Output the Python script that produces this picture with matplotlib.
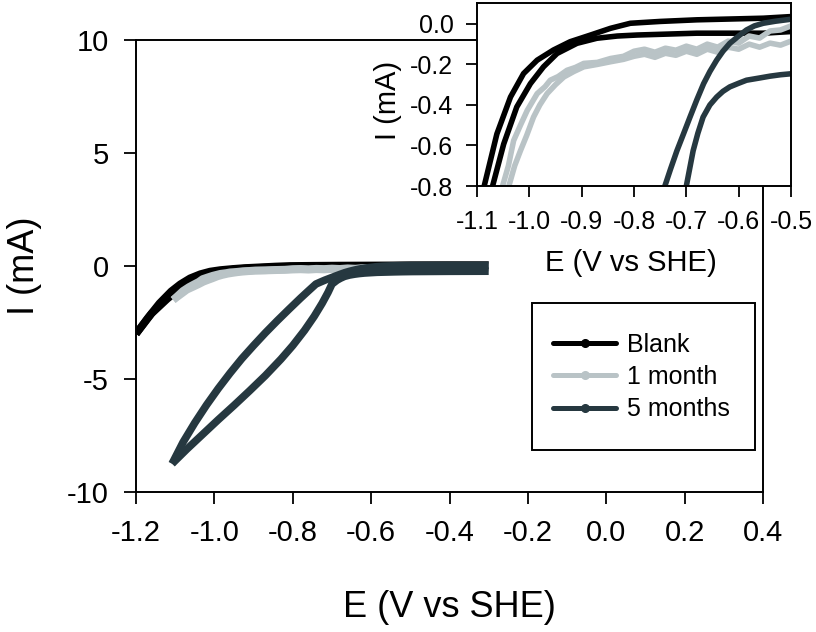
import matplotlib
matplotlib.use('Agg')
import matplotlib.pyplot as plt
from matplotlib.lines import Line2D
from matplotlib.patches import Rectangle
from matplotlib.ticker import FormatStrFormatter

plt.rcParams['font.family'] = ['Liberation Sans', 'DejaVu Sans']
plt.rcParams['axes.unicode_minus'] = False

# ---------------- data ----------------
series_labels = ['Blank', '1 month', '5 months']
series_colors = ['#000000', '#b9c3c6', '#263840']

# Blank: two scan branches
blank_a_E = [-1.2, -1.17, -1.14, -1.11, -1.087, -1.062, -1.036, -1.011, -0.985, -0.954,
             -0.922, -0.883, -0.845, -0.807, -0.75, -0.68, -0.6, -0.553, -0.5, -0.4, -0.3]
blank_a_I = [-3.0, -2.3, -1.65, -1.12, -0.808, -0.543, -0.361, -0.245, -0.179, -0.129,
             -0.088, -0.055, -0.022, 0.003, 0.012, 0.02, 0.025, 0.028, 0.036, 0.04, 0.04]
blank_b_E = [-1.2, -1.16, -1.12, -1.09, -1.071, -1.049, -1.024, -0.998, -0.973, -0.947,
             -0.909, -0.871, -0.832, -0.794, -0.68, -0.553, -0.5, -0.4, -0.3]
blank_b_I = [-3.0, -2.1, -1.45, -1.02, -0.808, -0.593, -0.41, -0.295, -0.212, -0.146,
             -0.096, -0.071, -0.06, -0.055, -0.046, -0.046, -0.038, -0.03, -0.02]

# 1 month: two scan branches
month1_a_E = [-1.105, -1.08, -1.065, -1.052, -1.04, -1.03, -1.017, -1.004, -0.985, -0.97,
              -0.96, -0.945, -0.928, -0.912, -0.896, -0.87, -0.845, -0.82, -0.80, -0.78,
              -0.76, -0.74, -0.72, -0.70, -0.68, -0.66, -0.64, -0.62, -0.60, -0.58,
              -0.56, -0.54, -0.52, -0.50, -0.4, -0.3]
month1_a_I = [-1.5, -1.1, -0.93, -0.808, -0.70, -0.576, -0.50, -0.427, -0.344, -0.31,
              -0.278, -0.26, -0.229, -0.215, -0.195, -0.19, -0.171, -0.16, -0.135, -0.125,
              -0.14, -0.12, -0.13, -0.11, -0.125, -0.10, -0.115, -0.085, -0.095, -0.06,
              -0.07, -0.035, -0.03, -0.01, -0.01, -0.01]
month1_b_E = [-1.105, -1.07, -1.055, -1.04, -1.028, -1.017, -1.005, -0.992, -0.98, -0.966,
              -0.95, -0.934, -0.915, -0.896, -0.87, -0.845, -0.82, -0.80, -0.78, -0.76,
              -0.74, -0.72, -0.70, -0.68, -0.66, -0.64, -0.62, -0.60, -0.58, -0.56,
              -0.54, -0.52, -0.50, -0.4, -0.3]
month1_b_I = [-1.5, -1.05, -0.93, -0.808, -0.70, -0.626, -0.55, -0.46, -0.40, -0.344,
              -0.30, -0.262, -0.235, -0.212, -0.20, -0.187, -0.175, -0.16, -0.15, -0.165,
              -0.145, -0.155, -0.135, -0.15, -0.125, -0.14, -0.115, -0.125, -0.10, -0.115,
              -0.095, -0.105, -0.085, -0.08, -0.08]

# 5 months: two scan branches
month5_a_E = [-1.108, -1.08, -1.05, -1.02, -0.99, -0.96, -0.93, -0.90, -0.87, -0.84,
              -0.81, -0.78, -0.76, -0.741, -0.73, -0.718, -0.705, -0.693, -0.68, -0.667,
              -0.655, -0.642, -0.63, -0.617, -0.60, -0.585, -0.57, -0.553, -0.53, -0.50,
              -0.4, -0.3]
month5_a_I = [-8.75, -7.8, -6.94, -6.15, -5.42, -4.74, -4.10, -3.52, -2.96, -2.43,
              -1.92, -1.42, -1.10, -0.80, -0.715, -0.626, -0.54, -0.46, -0.375, -0.295,
              -0.235, -0.179, -0.135, -0.096, -0.06, -0.03, -0.01, 0.003, 0.013, 0.023,
              0.03, 0.03]
month5_b_E = [-1.108, -1.07, -1.03, -0.99, -0.95, -0.91, -0.87, -0.83, -0.80, -0.77,
              -0.745, -0.725, -0.71, -0.70, -0.687, -0.678, -0.668, -0.655, -0.642, -0.63,
              -0.617, -0.60, -0.585, -0.56, -0.54, -0.52, -0.495, -0.4, -0.3]
month5_b_I = [-8.75, -8.1, -7.45, -6.8, -6.17, -5.52, -4.85, -4.12, -3.52, -2.85,
              -2.22, -1.65, -1.17, -0.80, -0.626, -0.54, -0.46, -0.40, -0.361, -0.333,
              -0.311, -0.293, -0.278, -0.267, -0.258, -0.251, -0.245, -0.235, -0.23]

main_xticks = [-1.2, -1.0, -0.8, -0.6, -0.4, -0.2, 0.0, 0.2, 0.4]
main_yticks = [-10, -5, 0, 5, 10]
inset_xticks = [-1.1, -1.0, -0.9, -0.8, -0.7, -0.6, -0.5]
inset_yticks = [-0.8, -0.6, -0.4, -0.2, 0.0]

curves = [
    (0, blank_a_E, blank_a_I), (0, blank_b_E, blank_b_I),
    (1, month1_a_E, month1_a_I), (1, month1_b_E, month1_b_I),
    (2, month5_a_E, month5_a_I), (2, month5_b_E, month5_b_I),
]

# ---------------- figure ----------------
W, H = 816, 632
fig = plt.figure(figsize=(W / 100, H / 100), dpi=100)

ax = fig.add_axes([136 / W, 1 - 492 / H, (763 - 136) / W, (492 - 40) / H])
for idx, E, I in curves:
    ax.plot(E, I, color=series_colors[idx], lw=5.5, solid_capstyle='butt',
            solid_joinstyle='round')
ax.set_xlim(-1.2, 0.4)
ax.set_ylim(-10, 10)
ax.set_xticks(main_xticks)
ax.set_yticks(main_yticks)
ax.xaxis.set_major_formatter(FormatStrFormatter('%.1f'))
ax.tick_params(direction='out', length=8.5, width=1.3, labelsize=21, pad=11,
               top=False, right=False)
for s in ax.spines.values():
    s.set_linewidth(1.4)
ax.set_xlabel('E (V vs SHE)', fontsize=26, va='center')
ax.xaxis.set_label_coords(0.5, -0.256)
ax.set_ylabel('I (mA)', fontsize=26, va='center')
ax.yaxis.set_label_coords(-0.178, 0.5)

# legend: frame drawn as a rectangle, entries placed inside it
fig.patches.append(Rectangle((532 / W, 1 - 450 / H), (755 - 532) / W, (450 - 303) / H,
                             transform=fig.transFigure, fill=False, edgecolor='black',
                             linewidth=1.4, zorder=5))
handles = [Line2D([], [], color=c, lw=3.6, marker='o', ms=5.5, solid_capstyle='round')
           for c in series_colors]
leg = ax.legend(handles, series_labels, loc='center left',
                bbox_to_anchor=(553 / W, 1 - 377 / H), bbox_transform=fig.transFigure,
                borderaxespad=0, borderpad=0, fontsize=18, frameon=False,
                handlelength=2.52, handletextpad=0.44, labelspacing=0.34)

# ---------------- inset ----------------
axi = fig.add_axes([477 / W, 1 - 186 / H, (791 - 477) / W, (186 - 3) / H])
axi.set_facecolor('white')
for idx, E, I in curves:
    axi.plot(E, I, color=series_colors[idx], lw=4, solid_capstyle='butt',
             solid_joinstyle='round')
axi.set_xlim(-1.1, -0.5)
axi.set_ylim(-0.8, 0.103)
axi.set_xticks(inset_xticks)
axi.set_yticks(inset_yticks)
axi.xaxis.set_major_formatter(FormatStrFormatter('%.1f'))
axi.yaxis.set_major_formatter(FormatStrFormatter('%.1f'))
axi.tick_params(direction='out', length=8, width=1.3, labelsize=18, pad=9,
                top=False, right=False)
for s in axi.spines.values():
    s.set_linewidth(1.4)
axi.set_xlabel('E (V vs SHE)', fontsize=21, va='center')
axi.xaxis.set_label_coords(0.49, -0.42)
axi.set_ylabel('I (mA)', fontsize=21, va='center')
axi.yaxis.set_label_coords(-0.283, 0.47)

fig.savefig('out.png', dpi=100)
